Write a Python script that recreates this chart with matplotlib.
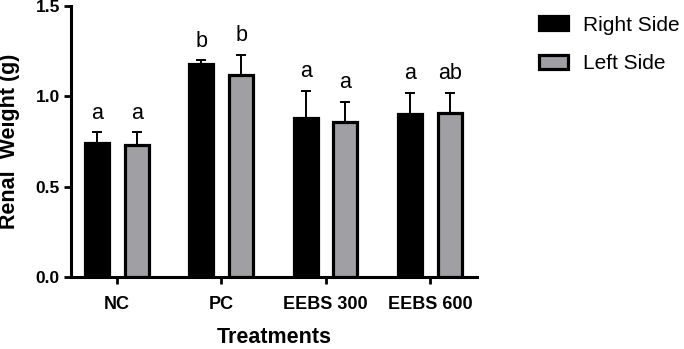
import matplotlib
matplotlib.use("Agg")
import matplotlib.pyplot as plt
import numpy as np

plt.rcParams['font.family'] = ['Liberation Sans', 'DejaVu Sans']

categories = ["NC", "PC", "EEBS 300", "EEBS 600"]
right_side = [0.74, 1.18, 0.88, 0.90]
right_err = [0.06, 0.02, 0.15, 0.12]
left_side = [0.73, 1.12, 0.86, 0.91]
left_err = [0.07, 0.11, 0.11, 0.11]
right_letters = ["a", "b", "a", "a"]
left_letters = ["a", "b", "a", "ab"]
y_ticks = [0.0, 0.5, 1.0, 1.5]

fig = plt.figure(figsize=(6.84, 3.49), dpi=100)
ax = fig.add_axes([71/684, 1-277/349, (477-71)/684, (277-6)/349])

x = np.arange(len(categories))
w = 0.23
off = 0.19
lw_edge = 2.3
ax.bar(x - off, right_side, w, color='black', edgecolor='black', linewidth=lw_edge,
       label='Right Side', zorder=3)
ax.bar(x + off, left_side, w, color='#a0a0a4', edgecolor='black', linewidth=lw_edge,
       label='Left Side', zorder=3)

ekw = dict(fmt='none', ecolor='black', elinewidth=1.4, capsize=3.6, capthick=1.4, zorder=2)
ax.errorbar(x - off, right_side, yerr=[np.zeros(4), right_err], **ekw)
ax.errorbar(x + off, left_side, yerr=[np.zeros(4), left_err], **ekw)

for i in range(len(categories)):
    ax.text(x[i] - off, right_side[i] + right_err[i] + 0.075, right_letters[i],
            ha='center', va='baseline', fontsize=15.5)
    ax.text(x[i] + off, left_side[i] + left_err[i] + 0.075, left_letters[i],
            ha='center', va='baseline', fontsize=15.5)

ax.set_xlim(-0.44, 3.45)
ax.set_ylim(0, 1.5)
ax.set_yticks(y_ticks)
ax.set_yticklabels([f"{v:.1f}" for v in y_ticks], fontsize=12.5, fontweight='bold')
ax.set_xticks(x)
ax.set_xticklabels(categories, fontsize=13, fontweight='bold')
ax.tick_params(axis='both', width=2, length=5, color='black')
ax.tick_params(axis='x', pad=9)
ax.tick_params(axis='y', pad=3)

for s in ['top', 'right']:
    ax.spines[s].set_visible(False)
for s in ['left', 'bottom']:
    ax.spines[s].set_linewidth(2.2)

ax.set_ylabel("Renal  Weight (g)", fontsize=15.5, fontweight='bold')
ax.yaxis.set_label_coords(-0.126, 0.5)
ax.set_xlabel("Treatments", fontsize=15.5, fontweight='bold')
ax.xaxis.set_label_coords(0.5, -0.183)

leg = fig.legend(loc='upper left', bbox_to_anchor=(523/684, 1.0), frameon=False,
                 fontsize=15, handlelength=1.4, handleheight=0.65, handletextpad=0.75,
                 labelspacing=0.95, borderaxespad=0.35)

fig.savefig("out.png", dpi=100)
